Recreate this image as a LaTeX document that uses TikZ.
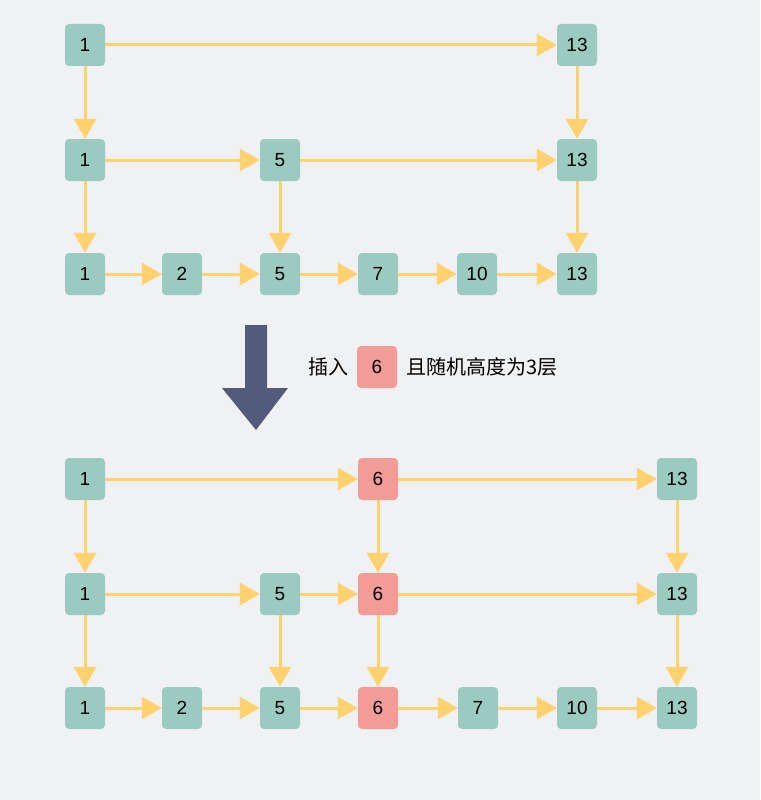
\documentclass[tikz,border=0pt]{standalone}
\usepackage{fontspec}
\setmainfont{Liberation Sans}
\newfontfamily\cjk{Noto Sans CJK SC}
\usetikzlibrary{arrows.meta}
\definecolor{bgcol}{HTML}{F0F1F3}
\definecolor{teal}{HTML}{9BCBC0}
\definecolor{pinkish}{HTML}{F29C98}
\definecolor{arrowcol}{HTML}{FFD16F}
\definecolor{bigarrow}{HTML}{525B7C}

\begin{document}
\begin{tikzpicture}[x=1pt,y=-1pt,
    key/.style={rectangle,rounded corners=4pt,fill=teal,minimum width=40pt,minimum height=42pt,inner sep=0pt,font=\fontsize{19}{22}\selectfont},
    newkey/.style={key,fill=pinkish},
    link/.style={-{Triangle[width=22pt,length=20pt]},color=arrowcol,line width=3pt}]
    \fill[bgcol] (0,0) rectangle (760,800);
    \useasboundingbox (0,0) rectangle (760,800);

    % before insertion
    \node[key] (a1) at (85,45) {1};
    \node[key] (a13) at (577,45) {13};
    \node[key] (b1) at (85,160) {1};
    \node[key] (b5) at (280,160) {5};
    \node[key] (b13) at (577,160) {13};
    \node[key] (c1) at (85,274) {1};
    \node[key] (c2) at (182,274) {2};
    \node[key] (c5) at (280,274) {5};
    \node[key] (c7) at (378,274) {7};
    \node[key] (c10) at (477,274) {10};
    \node[key] (c13) at (577,274) {13};

    \path[link] (a1) edge (a13) (a1) edge (b1) (a13) edge (b13)
        (b1) edge (b5) (b5) edge (b13) (b1) edge (c1) (b5) edge (c5) (b13) edge (c13)
        (c1) edge (c2) (c2) edge (c5) (c5) edge (c7) (c7) edge (c10) (c10) edge (c13);

    % insertion note
    \fill[bigarrow] (245,325) -- (267,325) -- (267,388) -- (288,388) -- (256,430)
        -- (222,388) -- (245,388) -- cycle;
    \node[font=\cjk\fontsize{20}{24}\selectfont,anchor=east] (ins) at (352,367) {插入};
    \node[newkey] (n6) at (377,367) {6};
    \node[font=\cjk\fontsize{20}{24}\selectfont,anchor=west] (rest) at (403,367) {且随机高度为3层};

    % after insertion
    \node[key] (d1) at (85,479) {1};
    \node[newkey] (d6) at (378,479) {6};
    \node[key] (d13) at (677,479) {13};
    \node[key] (e1) at (85,594) {1};
    \node[key] (e5) at (280,594) {5};
    \node[newkey] (e6) at (378,594) {6};
    \node[key] (e13) at (677,594) {13};
    \node[key] (f1) at (85,708) {1};
    \node[key] (f2) at (182,708) {2};
    \node[key] (f5) at (280,708) {5};
    \node[newkey] (f6) at (378,708) {6};
    \node[key] (f7) at (478,708) {7};
    \node[key] (f10) at (577,708) {10};
    \node[key] (f13) at (677,708) {13};

    \path[link] (d1) edge (d6) (d6) edge (d13) (d1) edge (e1) (d6) edge (e6) (d13) edge (e13)
        (e1) edge (e5) (e5) edge (e6) (e6) edge (e13)
        (e1) edge (f1) (e5) edge (f5) (e6) edge (f6) (e13) edge (f13)
        (f1) edge (f2) (f2) edge (f5) (f5) edge (f6) (f6) edge (f7) (f7) edge (f10) (f10) edge (f13);
\end{tikzpicture}
\end{document}
